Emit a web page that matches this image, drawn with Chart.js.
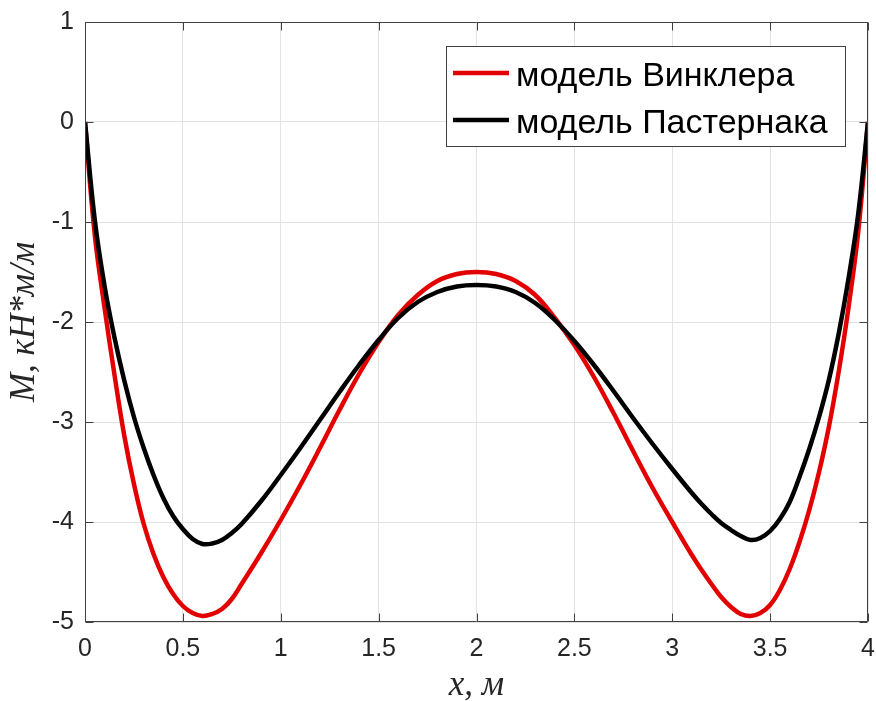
<!DOCTYPE html>
<html>
<head>
<meta charset="utf-8">
<title>M(x)</title>
<script src="https://cdn.jsdelivr.net/npm/chart.js@4.4.1/dist/chart.umd.min.js"></script>
<style>
    html, body { margin: 0; padding: 0; background: #fff; }
    #wrap { width: 876px; height: 701px; }
</style>
</head>
<body>
<div id="wrap"><canvas id="momentChart" width="876" height="701"></canvas></div>
<script>
// Координаты x, м
const xValues = [0, 0.05, 0.1, 0.15, 0.2, 0.25, 0.3, 0.35, 0.4, 0.45, 0.5, 0.55, 0.6, 0.65, 0.7, 0.75,
    0.8, 0.9, 1.0, 1.1, 1.2, 1.3, 1.4, 1.5, 1.6, 1.7, 1.8, 1.9, 2.0,
    2.1, 2.2, 2.3, 2.4, 2.5, 2.6, 2.7, 2.8, 2.9, 3.0, 3.1, 3.15, 3.2, 3.25, 3.3,
    3.35, 3.4, 3.45, 3.5, 3.55, 3.6, 3.65, 3.7, 3.75, 3.8, 3.85, 3.9, 3.95, 4.0];

// модель Винклера
const winklerValues = [0, -1.13, -1.86, -2.52, -3.13, -3.62, -4.02, -4.32, -4.55, -4.72, -4.84, -4.91, -4.94, -4.92, -4.87, -4.77,
    -4.62, -4.31, -3.98, -3.63, -3.26, -2.88, -2.52, -2.20, -1.93, -1.73, -1.59, -1.52, -1.50,
    -1.52, -1.59, -1.73, -1.96, -2.23, -2.55, -2.91, -3.29, -3.66, -4.00, -4.33, -4.48, -4.62, -4.75, -4.85,
    -4.92, -4.94, -4.91, -4.83, -4.68, -4.47, -4.2, -3.88, -3.5, -3.05, -2.5, -1.86, -1.1, 0];

// модель Пастернака
const pasternakValues = [0, -0.98, -1.64, -2.15, -2.58, -2.95, -3.26, -3.53, -3.76, -3.94, -4.07, -4.17, -4.22, -4.215, -4.18, -4.11,
    -4.02, -3.79, -3.53, -3.26, -2.98, -2.70, -2.43, -2.18, -1.96, -1.80, -1.70, -1.645, -1.63,
    -1.645, -1.70, -1.81, -1.98, -2.19, -2.43, -2.69, -2.96, -3.22, -3.47, -3.71, -3.82, -3.92, -4.01, -4.08,
    -4.14, -4.18, -4.16, -4.09, -3.97, -3.8, -3.55, -3.27, -2.95, -2.58, -2.12, -1.57, -0.92, 0];

const seriesLabels = ['модель Винклера', 'модель Пастернака'];
const seriesColors = ['#e30000', '#000000'];
const xTitle = 'x, м';
const yTitle = 'M, кН*м/м';

const toPoints = (ys) => xValues.map((x, i) => ({ x: x, y: ys[i] }));

// рамка осей и внутренние засечки, как в MATLAB
const axesBoxPlugin = {
    id: 'axesBox',
    afterDatasetsDraw(chart) {
        const { ctx, chartArea: a, scales } = chart;
        const L = Math.round(a.left) + 0.5, R = Math.round(a.right) - 0.5;
        const T = Math.round(a.top) + 0.5, B = Math.round(a.bottom) - 0.5;
        const tick = 8;
        ctx.save();
        ctx.strokeStyle = '#404040';
        ctx.lineWidth = 1;
        ctx.beginPath();
        ctx.rect(L, T, R - L, B - T);
        scales.x.ticks.forEach(t => {
            const px = Math.round(scales.x.getPixelForValue(t.value)) + 0.5;
            ctx.moveTo(px, B); ctx.lineTo(px, B - tick);
            ctx.moveTo(px, T); ctx.lineTo(px, T + tick);
        });
        scales.y.ticks.forEach(t => {
            const py = Math.round(scales.y.getPixelForValue(t.value)) + 0.5;
            ctx.moveTo(L, py); ctx.lineTo(L + tick, py);
            ctx.moveTo(R, py); ctx.lineTo(R - tick, py);
        });
        ctx.stroke();
        ctx.restore();
    }
};

// легенда внутри области графика (северо-восток)
const innerLegendPlugin = {
    id: 'innerLegend',
    afterDraw(chart) {
        const { ctx, chartArea: a } = chart;
        const sets = chart.data.datasets;
        ctx.save();
        ctx.font = '34px "Liberation Sans", Arial, sans-serif';
        const textW = Math.max(...sets.map(d => ctx.measureText(d.label).width));
        const lineLen = 56, gap = 7, padL = 7, padR = 18;
        const boxW = Math.round(padL + lineLen + gap + textW + padR);
        const boxH = 101;
        const right = Math.round(a.right) - 22;
        const top = Math.round(a.top) + 24;
        const left = right - boxW;

        ctx.fillStyle = '#ffffff';
        ctx.fillRect(left, top, boxW, boxH);
        ctx.strokeStyle = '#404040';
        ctx.lineWidth = 1;
        ctx.strokeRect(left + 0.5, top + 0.5, boxW - 1, boxH - 1);

        sets.forEach((d, i) => {
            const rowY = top + 27 + i * 47;
            ctx.strokeStyle = d.borderColor;
            ctx.lineWidth = 4.5;
            ctx.beginPath();
            ctx.moveTo(left + padL, rowY);
            ctx.lineTo(left + padL + lineLen, rowY);
            ctx.stroke();
            ctx.fillStyle = '#000000';
            ctx.textBaseline = 'alphabetic';
            ctx.textAlign = 'left';
            ctx.fillText(d.label, left + padL + lineLen + gap, rowY + 13);
        });
        ctx.restore();
    }
};

const tickFont = { family: '"Liberation Sans", Arial, sans-serif', size: 25 };
const titleFont = { family: '"Liberation Serif", "Times New Roman", serif', size: 35, style: 'italic', lineHeight: 0.8 };

new Chart(document.getElementById('momentChart'), {
    type: 'line',
    data: {
        datasets: [
            {
                label: seriesLabels[0],
                data: toPoints(winklerValues),
                borderColor: seriesColors[0],
                borderWidth: 4.5,
                pointRadius: 0,
                tension: 0.4,
                fill: false,
                order: 1
            },
            {
                label: seriesLabels[1],
                data: toPoints(pasternakValues),
                borderColor: seriesColors[1],
                borderWidth: 4.5,
                pointRadius: 0,
                tension: 0.4,
                fill: false,
                order: 0
            }
        ]
    },
    options: {
        responsive: false,
        animation: false,
        events: [],
        layout: { padding: { top: 22, right: 8, left: 0, bottom: 0 } },
        plugins: {
            legend: { display: false },
            tooltip: { enabled: false }
        },
        scales: {
            x: {
                type: 'linear',
                min: 0,
                max: 4,
                afterFit: (s) => { s.height = 79; s.paddingLeft = 0; s.paddingRight = 0; },
                ticks: { stepSize: 0.5, color: '#262626', font: tickFont, padding: 12, maxRotation: 0,
                         callback: (v) => String(v) },
                grid: { color: '#e3e3e3', lineWidth: 1, drawTicks: false },
                border: { display: false },
                title: { display: true, text: xTitle, color: '#262626', font: titleFont, padding: { top: 0, bottom: 1 } }
            },
            y: {
                type: 'linear',
                min: -5,
                max: 1,
                afterFit: (s) => { s.width = 85; s.paddingTop = 0; s.paddingBottom = 0; },
                ticks: { stepSize: 1, color: '#262626', font: tickFont, padding: 11,
                         callback: (v) => String(v) },
                grid: { color: '#e3e3e3', lineWidth: 1, drawTicks: false },
                border: { display: false },
                title: { display: true, text: yTitle, color: '#262626', font: titleFont, padding: { top: 11, bottom: 0 } }
            }
        }
    },
    plugins: [axesBoxPlugin, innerLegendPlugin]
});
</script>
</body>
</html>
